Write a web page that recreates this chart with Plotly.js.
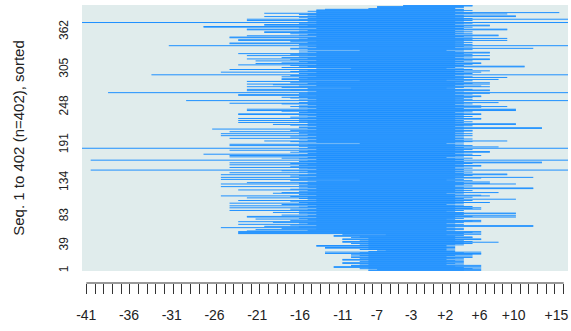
<!DOCTYPE html>
<html><head><meta charset="utf-8">
<script src="https://cdn.plot.ly/plotly-3.0.1.min.js"></script>
<style>html,body{margin:0;padding:0;background:#fff}#chart{width:571px;height:331px}</style>
</head><body><div id="chart"></div>
<script>
// Relative start / end positions of each sequence (no position 0 on this scale), rows 1..402
const starts = [
-8,-8,-7,-9,-8,-12,-12,-10,-10,-8,
-9,-11,-11,-8,-9,-8,-11,-11,-9,-8,
-10,-8,-10,-9,-10,-8,-13,-9,-13,-8,
-7,-6,-9,-8,-13,-13,-8,-14,-14,-9,
-8,-10,-8,-11,-11,-9,-8,-11,-11,-8,
-10,-9,-12,-12,-6,-11,
-23,-23,-23,-23,-22,-15,-21,-14,-18,-25,
-16,-20,-14,-17,-23,-15,-16,-19,-23,-14,
-17,-15,-21,-16,-14,-22,-22,-15,-18,-14,
-16,-15,-19,-14,-16,-24,-15,-17,-14,-24,
-16,-15,-24,-14,-18,-15,-24,-16,-14,-17,
-23,-15,-14,-16,-22,-15,-17,-25,-14,-16,
-15,-19,-18,-14,-16,-15,-23,-17,-14,-16,
-15,-25,-14,-16,-15,-25,
-16,-22,-15,-14,-17,-9,-25,-16,-15,-25,
-14,-17,-16,-25,-15,-14,-24,-16,-15,-18,
-40,-14,-16,-15,-24,-17,-14,-16,-24,-15,
-17,-24,-14,-16,-15,-40,-14,-16,-18,-15,
-24,-14,-24,-16,-27,-15,-14,-17,-16,-15,
-24,-14,-16,-41,-15,-14,-16,-24,-15,-24,
-9,-16,-14,-17,-20,-15,-14,-16,-24,-15,
-17,-14,-25,-16,-15,-25,-14,-16,-24,-15,
-17,-14,-26,-15,-16,-16,-14,-15,-17,-19,
-15,-14,-23,-16,-15,-23,-14,-16,-23,-15,
-17,-14,-16,-15,-23,-23,-14,-16,-15,-18,
-22,-15,-22,-14,-16,-15,-17,-16,-14,-15,
-18,-24,-16,-14,-15,-29,-16,-14,-15,-17,
-18,-16,-14,-23,-23,-15,
-16,-38,-15,-14,-22,-17,-22,-15,-10,-18,
-22,-16,-14,-19,-22,-15,-17,-14,-22,-16,
-9,-18,-18,-15,-16,-18,-14,-17,-33,-15,
-16,-14,-25,-17,-15,-16,-24,-14,-10,-18,
-16,-15,-17,-23,-14,-21,-18,-15,-16,-21,
-14,-17,-22,-15,-18,-16,-14,-22,-15,-17,
-23,-16,-14,-15,-16,-9,-15,-17,-17,-14,
-16,-15,-31,-14,-16,-24,-24,-15,-17,-14,
-23,-23,-16,-15,-24,-24,-14,-22,-16,-15,
-17,-14,-20,-20,-16,-15,-22,-22,-14,-16,
-27,-27,-15,-20,-20,-14,-16,-41,-15,-14,
-22,-16,-22,-15,-14,-16,-20,-15,-14,-16,
-15,-20,-14,-14,-15,-14,-14,-13,-8,-7,
-7,-7,-4,-4
];
const ends = [
5,3,5,4,5,3,5,2,5,1,
3,2,3,1,3,2,3,1,3,2,
4,1,4,2,4,5,5,3,5,2,
1,2,1,2,1,2,1,2,1,3,
2,4,3,7,4,2,3,5,5,2,
4,4,2,3,1,5,
3,5,4,5,2,1,3,2,3,1,
2,11,11,2,3,1,2,3,5,4,
5,2,1,3,2,9,4,9,2,3,
9,9,3,2,1,3,2,5,4,5,
2,4,3,2,1,3,2,6,3,2,
4,2,9,3,2,4,2,6,5,2,
3,1,7,3,2,4,3,2,11,11,
3,2,4,2,3,9,
6,3,6,2,4,1,3,2,5,11,
3,2,4,8,8,3,2,4,3,2,
15,3,2,4,2,3,5,5,3,2,
4,12,12,3,2,15,3,2,4,1,
3,2,5,3,4,2,3,6,6,2,
3,4,2,15,3,7,2,4,3,2,
1,3,2,4,8,3,2,4,3,2,
3,2,4,3,2,4,3,2,3,4,
4,2,3,12,12,3,2,4,3,9,
9,2,3,4,2,3,2,5,5,3,
2,4,3,2,5,5,3,2,4,3,
9,9,9,3,2,5,8,5,3,2,
4,3,7,2,3,15,2,4,3,2,
4,5,5,3,2,4,
6,15,3,2,6,6,4,2,1,3,
6,5,2,3,6,4,6,2,3,4,
1,7,3,2,8,4,3,2,15,3,
4,2,5,3,6,2,4,3,1,2,
10,10,3,2,4,5,5,2,3,4,
2,6,6,3,2,4,3,6,2,4,
3,6,6,2,3,1,4,3,11,2,
4,3,15,2,4,3,2,4,3,2,
8,4,3,8,2,4,3,7,7,2,
4,3,2,4,3,2,8,8,3,2,
4,3,6,6,2,3,4,15,3,2,
4,3,15,4,2,3,9,9,3,2,
8,4,14,3,2,4,3,3,2,2,
3,3,4,4
];
const xTickLabels = [-41,-36,-31,-26,-21,-16,-11,-7,-3,2,6,10,15];
const yTickLabels = [1,39,83,134,191,248,305,362];
const nSeq = 402;
const yTitle = 'Seq. 1 to 402 (n=402), sorted';

// axis position of a relative coordinate (the scale skips 0)
function pos(v){ return v < 0 ? v + 42 : v + 41; }
const nPos = pos(15);

const xs = [], ys = [];
const n = Math.min(starts.length, ends.length);
for (let i = 0; i < n; i++) {
  xs.push(pos(starts[i]) - 0.5, pos(ends[i]) + 0.5, null);
  ys.push(i + 1, i + 1, null);
}
const combVals = [];
for (let k = 1; k <= nPos; k++) combVals.push(k);
// the printed labels sit on a slightly tighter spacing than the tick comb
const labelStretch = 8.55 / 8.68;
const labelVals = xTickLabels.map(v => 0.5 + (pos(v) - 0.5) * labelStretch);
const labelText = xTickLabels.map(v => v > 0 ? '+' + v : String(v));

const trace = {
  type: 'scatter', mode: 'lines', x: xs, y: ys, connectgaps: false,
  line: {color: '#1E90FF', width: 1}, hoverinfo: 'skip'
};
const fontFam = 'Arial, "Liberation Sans", sans-serif';
const layout = {
  width: 571, height: 331,
  margin: {l: 82, r: 3, t: 5, b: 48},
  paper_bgcolor: '#ffffff', plot_bgcolor: '#e0ecec',
  showlegend: false,
  font: {family: fontFam, color: '#222'},
  xaxis: {
    range: [0.5, nPos + 0.5], anchor: 'free', position: 0,
    tickmode: 'array', tickvals: labelVals, ticktext: labelText,
    ticks: '', tickfont: {size: 14, color: '#222', family: fontFam},
    ticklabelstandoff: 22, ticklabeloverflow: 'allow',
    minor: {tickmode: 'array', tickvals: combVals, ticks: 'outside', ticklen: 10,
            tickwidth: 1, tickcolor: '#333', showgrid: false},
    showgrid: false, zeroline: false, showline: false, fixedrange: true
  },
  yaxis: {
    domain: [12 / 278, 1], range: [0.5, nSeq + 0.5],
    tickmode: 'array', tickvals: yTickLabels, ticktext: yTickLabels.map(String),
    ticks: '', showgrid: false, zeroline: false, showline: false,
    tickangle: -90, tickfont: {size: 12, color: '#222'}, ticklabelstandoff: 11,
    title: {text: yTitle, font: {size: 15, color: '#222'}, standoff: 28},
    fixedrange: true
  },
  shapes: [{type: 'line', xref: 'x', yref: 'paper', x0: 1, x1: nPos, y0: 0, y1: 0,
            line: {color: '#333', width: 1}}]
};
Plotly.newPlot('chart', [trace], layout, {staticPlot: true, displayModeBar: false});
</script>
</body></html>
